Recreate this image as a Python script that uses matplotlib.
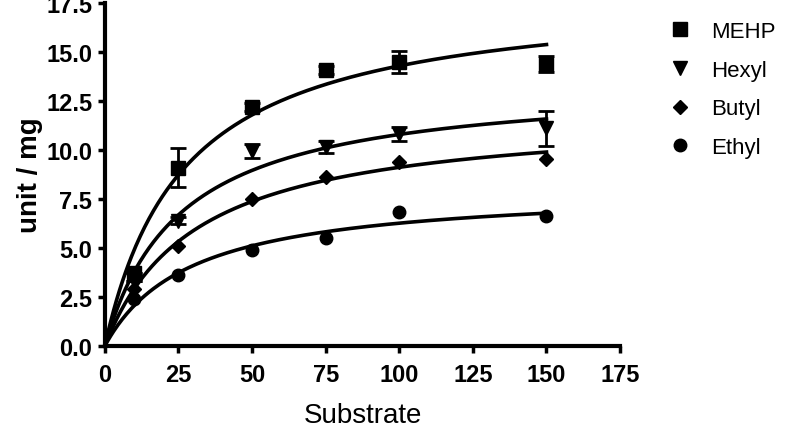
import numpy as np
import matplotlib.pyplot as plt

substrate = [10, 25, 50, 75, 100, 150]

mehp = [3.7, 9.1, 12.2, 14.1, 14.5, 14.4]
mehp_err = [0.0, 1.0, 0.2, 0.2, 0.55, 0.4]
hexyl = [3.3, 6.4, 9.95, 10.15, 10.8, 11.1]
hexyl_err = [0.0, 0.2, 0.35, 0.3, 0.35, 0.9]
butyl = [2.9, 5.1, 7.5, 8.6, 9.4, 9.55]
ethyl = [2.4, 3.6, 4.9, 5.5, 6.85, 6.65]

series = [
    ("MEHP", mehp, mehp_err, "s", 10),
    ("Hexyl", hexyl, hexyl_err, "v", 10),
    ("Butyl", butyl, None, "D", 7),
    ("Ethyl", ethyl, None, "o", 9),
]


def fit_mm(x, y):
    # Michaelis-Menten fit: grid over Km, Vmax by least squares
    x = np.asarray(x, float)
    y = np.asarray(y, float)
    best = None
    for km in np.linspace(1, 200, 4000):
        f = x / (km + x)
        vmax = (y * f).sum() / (f * f).sum()
        sse = ((y - vmax * f) ** 2).sum()
        if best is None or sse < best[0]:
            best = (sse, vmax, km)
    return best[1], best[2]


fig = plt.figure(figsize=(7.94, 4.35), dpi=100)
ax = fig.add_axes([0.132, 0.2023, 0.649, 0.7885])

xs = np.linspace(0, 150, 300)
handles = []
for name, y, err, mk, ms in series:
    vmax, km = fit_mm(substrate, y)
    ax.plot(xs, vmax * xs / (km + xs), color="black", lw=2.6, zorder=2)
    if err is not None:
        ax.errorbar(substrate, y, yerr=err, fmt="none", ecolor="black",
                    elinewidth=2, capsize=6, capthick=2, zorder=3)
    h, = ax.plot(substrate, y, linestyle="none", marker=mk, markersize=ms,
                 color="black", zorder=4)
    handles.append(h)

ax.set_xlim(0, 175)
ax.set_ylim(0, 17.5)
ax.set_xticks(np.arange(0, 176, 25))
ax.set_yticks(np.arange(0, 17.6, 2.5))
ax.set_yticklabels([f"{v:.1f}" for v in np.arange(0, 17.6, 2.5)])

for s in ["top", "right"]:
    ax.spines[s].set_visible(False)
for s in ["left", "bottom"]:
    ax.spines[s].set_linewidth(3)
ax.tick_params(width=2.5, length=5, direction="out", labelsize=17, pad=4)
ax.tick_params(axis="x", pad=7)
for lab in ax.get_xticklabels() + ax.get_yticklabels():
    lab.set_fontweight("bold")
    lab.set_family("Liberation Sans")

ax.set_xlabel("Substrate", fontsize=20, family="Liberation Sans", labelpad=12)
ax.set_ylabel("unit / mg", fontsize=20, fontweight="bold",
              family="Liberation Sans", labelpad=2)

fig.legend(handles, [s[0] for s in series], loc="upper left",
           bbox_to_anchor=(0.817, 0.996), frameon=False,
           prop={"family": "Liberation Sans", "size": 16},
           handlelength=1.0, handletextpad=0.9, labelspacing=0.8)

fig.savefig("out.png", dpi=100)
